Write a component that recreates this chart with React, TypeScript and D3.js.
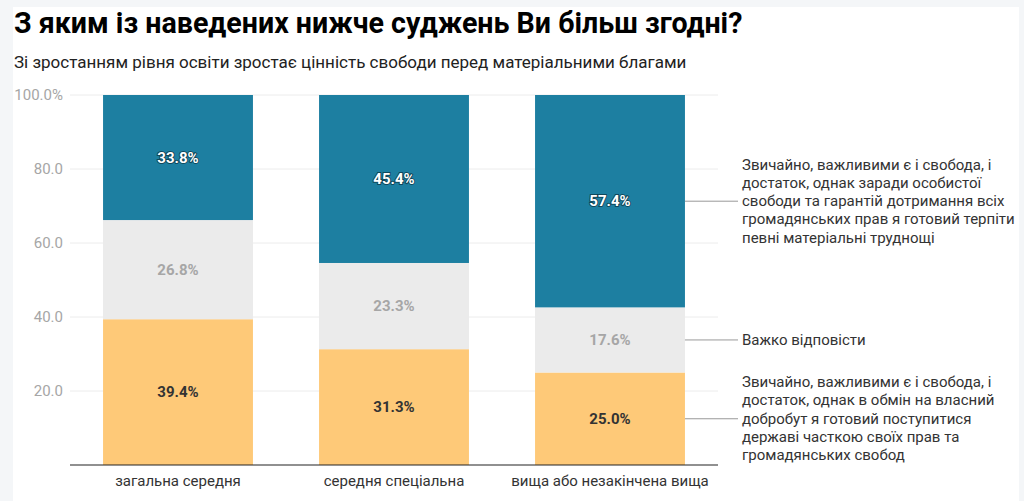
import React from "react";
import * as d3 from "d3";

const categories = ["загальна середня", "середня спеціальна", "вища або незакінчена вища"];
const seriesNames = [
  "Звичайно, важливими є і свобода, і достаток, однак в обмін на власний добробут я готовий поступитися державі часткою своїх прав та громадянських свобод",
  "Важко відповісти",
  "Звичайно, важливими є і свобода, і достаток, однак заради особистої свободи та гарантій дотримання всіх громадянських прав я готовий терпіти певні матеріальні труднощі",
];
const legendLines = [
  ["Звичайно, важливими є і свобода, і", "достаток, однак в обмін на власний", "добробут я готовий поступитися", "державі часткою своїх прав та", "громадянських свобод"],
  ["Важко відповісти"],
  ["Звичайно, важливими є і свобода, і", "достаток, однак заради особистої", "свободи та гарантій дотримання всіх", "громадянських прав я готовий терпіти", "певні матеріальні труднощі"],
];
const materialValues = [39.4, 31.3, 25.0];
const hardValues = [26.8, 23.3, 17.6];
const freedomValues = [33.8, 45.4, 57.4];
const yTicks = [20, 40, 60, 80, 100];

const colors = ["#fec978", "#ebebeb", "#1d7fa1"];
const labelColors = ["#333333", "#a6a6a6", "#ffffff"];

export default function App() {
  const W = 1024, H = 501;
  const left = 70, right = 718, top = 95, bottom = 465;
  const x = d3.scaleBand().domain(categories).range([left, right]).paddingInner(0.306).paddingOuter(0.153);
  const y = d3.scaleLinear().domain([0, 100]).range([bottom, top]);
  const rows = categories.map((c, i) => ({ cat: c, s0: materialValues[i], s1: hardValues[i], s2: freedomValues[i] }));
  const stacked = d3.stack<any>().keys(["s0", "s1", "s2"])(rows);
  const font = "Roboto, 'Noto Sans', Arial, sans-serif";
  const lastCat = categories[categories.length - 1];
  const lastX = (x(lastCat) as number) + x.bandwidth();
  const lineH = 18.3;

  return (
    <svg width={W} height={H} style={{ position: "fixed", left: 0, top: 0 }} fontFamily={font}>
      <rect x={0} y={0} width={W} height={H} fill="#f4f6f8" />
      <rect x={13} y={7} width={1006} height={H} fill="#ffffff" />
      <text x={14} y={33} fontSize={28.6} fontWeight={700} fill="#000">З яким із наведених нижче суджень Ви більш згодні?</text>
      <text x={14} y={68} fontSize={17} fill="#222">Зі зростанням рівня освіти зростає цінність свободи перед матеріальними благами</text>
      {yTicks.map((t) => (
        <g key={t}>
          <line x1={left} x2={right} y1={y(t)} y2={y(t)} stroke="#ececec" strokeWidth={1} />
          <text x={63} y={y(t) + 5} fontSize={15} fill="#a6a6a6" textAnchor="end">{t === 100 ? "100.0%" : t.toFixed(1)}</text>
        </g>
      ))}
      {stacked.map((layer, si) => (
        <g key={si}>
          {layer.map((d, i) => {
            const bx = x(d.data.cat) as number;
            const y0 = y(d[0]), y1 = y(d[1]);
            const v = d[1] - d[0];
            return (
              <g key={i}>
                <rect x={bx} y={y1} width={x.bandwidth()} height={y0 - y1} fill={colors[si]} />
                <text
                  x={bx + x.bandwidth() / 2}
                  y={(y0 + y1) / 2 + 5}
                  textAnchor="middle"
                  fontSize={15}
                  fontWeight={700}
                  fill={labelColors[si]}
                  stroke={si === 2 ? "rgba(0,0,0,0.45)" : "none"}
                  strokeWidth={si === 2 ? 2 : 0}
                  paintOrder="stroke"
                >
                  {v.toFixed(1)}%
                </text>
              </g>
            );
          })}
        </g>
      ))}
      <line x1={left} x2={right} y1={bottom} y2={bottom} stroke="#222" strokeWidth={1.2} />
      {categories.map((c) => (
        <text key={c} x={(x(c) as number) + x.bandwidth() / 2} y={486} textAnchor="middle" fontSize={15} fill="#333">{c}</text>
      ))}
      {stacked.map((layer, si) => {
        const d = layer[layer.length - 1];
        const cy = (y(d[0]) + y(d[1])) / 2;
        const lines = legendLines[si];
        const startY = cy - ((lines.length - 1) * lineH) / 2 + 5;
        return (
          <g key={"leg" + si}>
            <line x1={lastX} x2={738} y1={cy} y2={cy} stroke="#999" strokeWidth={1} />
            <text fontSize={15} fill="#333">
              {lines.map((ln, li) => (
                <tspan key={li} x={742} y={startY + li * lineH}>{ln}</tspan>
              ))}
            </text>
          </g>
        );
      })}
    </svg>
  );
}
